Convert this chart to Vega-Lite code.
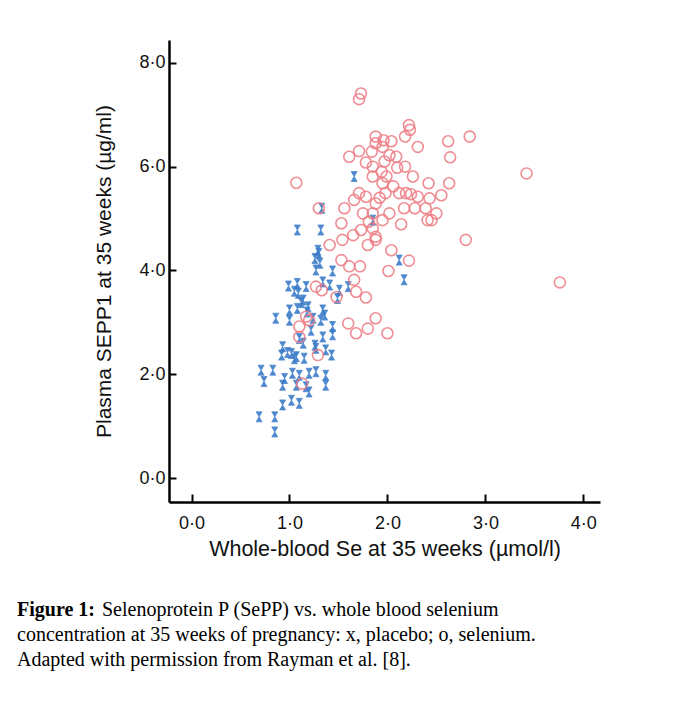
{
  "$schema": "https://vega.github.io/schema/vega-lite/v6.json",
  "width": 431,
  "height": 462,
  "autosize": {"type": "none"},
  "padding": {"left": 169, "top": 40, "right": 77, "bottom": 209},
  "background": "white",
  "config": {"view": {"stroke": null}},
  "title": {
    "text": "Figure 1:",
    "subtitle": ["\u200b\u00a0\u00a0\u00a0\u00a0\u00a0\u00a0\u00a0\u00a0\u00a0\u00a0\u00a0\u00a0\u00a0\u00a0\u00a0\u00a0\u00a0Selenoprotein P (SePP) vs. whole blood selenium", "concentration at 35 weeks of pregnancy: x, placebo; o, selenium.", "Adapted with permission from Rayman et al. [8]."],
    "orient": "bottom",
    "anchor": "start",
    "frame": "group",
    "dx": -152,
    "offset": 40,
    "font": "Liberation Serif",
    "fontSize": 20,
    "fontWeight": "bold",
    "color": "black",
    "subtitleFont": "Liberation Serif",
    "subtitleFontSize": 20,
    "subtitleFontWeight": "normal",
    "subtitleColor": "black",
    "subtitleLineHeight": 25,
    "subtitlePadding": -20
  },
  "data": {"values": [
    {"group":"selenium","se":1.73,"sepp":7.41},{"group":"selenium","se":1.71,"sepp":7.30},{"group":"selenium","se":2.22,"sepp":6.80},{"group":"selenium","se":2.23,"sepp":6.71},
    {"group":"selenium","se":2.18,"sepp":6.58},{"group":"selenium","se":2.84,"sepp":6.58},{"group":"selenium","se":2.62,"sepp":6.49},{"group":"selenium","se":2.64,"sepp":6.18},
    {"group":"selenium","se":1.88,"sepp":6.58},{"group":"selenium","se":1.96,"sepp":6.51},{"group":"selenium","se":2.04,"sepp":6.49},{"group":"selenium","se":1.88,"sepp":6.45},
    {"group":"selenium","se":1.95,"sepp":6.38},{"group":"selenium","se":2.31,"sepp":6.38},{"group":"selenium","se":1.71,"sepp":6.30},{"group":"selenium","se":1.84,"sepp":6.29},
    {"group":"selenium","se":1.61,"sepp":6.19},{"group":"selenium","se":2.09,"sepp":6.19},{"group":"selenium","se":2.02,"sepp":6.22},{"group":"selenium","se":1.78,"sepp":6.08},
    {"group":"selenium","se":1.97,"sepp":6.10},{"group":"selenium","se":1.85,"sepp":6.00},{"group":"selenium","se":2.18,"sepp":6.00},{"group":"selenium","se":1.94,"sepp":5.90},
    {"group":"selenium","se":2.26,"sepp":5.81},{"group":"selenium","se":1.85,"sepp":5.81},{"group":"selenium","se":1.99,"sepp":5.81},{"group":"selenium","se":3.42,"sepp":5.87},
    {"group":"selenium","se":1.07,"sepp":5.69},{"group":"selenium","se":2.42,"sepp":5.68},{"group":"selenium","se":2.63,"sepp":5.68},{"group":"selenium","se":1.95,"sepp":5.68},
    {"group":"selenium","se":1.98,"sepp":5.49},{"group":"selenium","se":2.12,"sepp":5.49},{"group":"selenium","se":2.19,"sepp":5.49},{"group":"selenium","se":2.24,"sepp":5.47},
    {"group":"selenium","se":1.71,"sepp":5.49},{"group":"selenium","se":1.78,"sepp":5.42},{"group":"selenium","se":1.66,"sepp":5.36},{"group":"selenium","se":2.31,"sepp":5.42},
    {"group":"selenium","se":2.43,"sepp":5.39},{"group":"selenium","se":1.88,"sepp":5.29},{"group":"selenium","se":1.56,"sepp":5.20},{"group":"selenium","se":1.75,"sepp":5.10},
    {"group":"selenium","se":2.02,"sepp":5.10},{"group":"selenium","se":2.17,"sepp":5.20},{"group":"selenium","se":2.28,"sepp":5.20},{"group":"selenium","se":2.39,"sepp":5.20},
    {"group":"selenium","se":2.41,"sepp":4.97},{"group":"selenium","se":2.45,"sepp":4.97},{"group":"selenium","se":1.30,"sepp":5.20},{"group":"selenium","se":1.85,"sepp":5.10},
    {"group":"selenium","se":1.95,"sepp":4.97},{"group":"selenium","se":1.81,"sepp":4.94},{"group":"selenium","se":1.53,"sepp":4.91},{"group":"selenium","se":2.14,"sepp":4.89},
    {"group":"selenium","se":1.73,"sepp":4.78},{"group":"selenium","se":1.85,"sepp":4.81},{"group":"selenium","se":1.88,"sepp":4.65},{"group":"selenium","se":1.65,"sepp":4.68},
    {"group":"selenium","se":1.54,"sepp":4.59},{"group":"selenium","se":1.80,"sepp":4.49},{"group":"selenium","se":1.88,"sepp":4.59},{"group":"selenium","se":1.41,"sepp":4.49},
    {"group":"selenium","se":2.80,"sepp":4.59},{"group":"selenium","se":2.04,"sepp":4.39},{"group":"selenium","se":1.53,"sepp":4.20},{"group":"selenium","se":1.61,"sepp":4.08},
    {"group":"selenium","se":1.72,"sepp":4.08},{"group":"selenium","se":2.22,"sepp":4.19},{"group":"selenium","se":2.01,"sepp":3.99},{"group":"selenium","se":3.76,"sepp":3.77},
    {"group":"selenium","se":1.66,"sepp":3.82},{"group":"selenium","se":1.68,"sepp":3.59},{"group":"selenium","se":1.78,"sepp":3.48},{"group":"selenium","se":1.48,"sepp":3.49},
    {"group":"selenium","se":1.27,"sepp":3.69},{"group":"selenium","se":1.33,"sepp":3.62},{"group":"selenium","se":1.88,"sepp":3.08},{"group":"selenium","se":1.60,"sepp":2.98},
    {"group":"selenium","se":1.80,"sepp":2.88},{"group":"selenium","se":1.68,"sepp":2.79},{"group":"selenium","se":2.00,"sepp":2.79},{"group":"selenium","se":1.17,"sepp":3.11},
    {"group":"selenium","se":1.20,"sepp":3.04},{"group":"selenium","se":1.10,"sepp":2.92},{"group":"selenium","se":1.10,"sepp":2.72},{"group":"selenium","se":1.29,"sepp":2.37},
    {"group":"selenium","se":1.13,"sepp":1.82},{"group":"selenium","se":2.06,"sepp":5.62},{"group":"selenium","se":1.92,"sepp":5.40},{"group":"selenium","se":2.50,"sepp":5.10},
    {"group":"selenium","se":2.10,"sepp":5.98},{"group":"selenium","se":2.55,"sepp":5.45},
    {"group":"placebo","se":1.08,"sepp":4.78},{"group":"placebo","se":1.32,"sepp":4.78},{"group":"placebo","se":1.66,"sepp":5.81},{"group":"placebo","se":1.33,"sepp":5.20},
    {"group":"placebo","se":1.85,"sepp":4.97},{"group":"placebo","se":2.12,"sepp":4.20},{"group":"placebo","se":2.17,"sepp":3.82},{"group":"placebo","se":1.29,"sepp":4.39},
    {"group":"placebo","se":1.30,"sepp":4.33},{"group":"placebo","se":1.26,"sepp":4.23},{"group":"placebo","se":1.31,"sepp":4.14},{"group":"placebo","se":1.27,"sepp":4.01},
    {"group":"placebo","se":1.44,"sepp":3.99},{"group":"placebo","se":0.99,"sepp":3.70},{"group":"placebo","se":1.08,"sepp":3.75},{"group":"placebo","se":1.17,"sepp":3.69},
    {"group":"placebo","se":1.41,"sepp":3.72},{"group":"placebo","se":1.51,"sepp":3.62},{"group":"placebo","se":1.60,"sepp":3.69},{"group":"placebo","se":1.34,"sepp":3.78},
    {"group":"placebo","se":1.09,"sepp":3.56},{"group":"placebo","se":1.14,"sepp":3.43},{"group":"placebo","se":1.49,"sepp":3.46},{"group":"placebo","se":1.00,"sepp":3.24},
    {"group":"placebo","se":1.08,"sepp":3.27},{"group":"placebo","se":1.19,"sepp":3.30},{"group":"placebo","se":1.34,"sepp":3.24},{"group":"placebo","se":1.36,"sepp":3.14},
    {"group":"placebo","se":0.86,"sepp":3.08},{"group":"placebo","se":1.00,"sepp":3.04},{"group":"placebo","se":1.24,"sepp":3.08},{"group":"placebo","se":1.32,"sepp":3.04},
    {"group":"placebo","se":1.44,"sepp":2.92},{"group":"placebo","se":1.22,"sepp":2.85},{"group":"placebo","se":1.10,"sepp":2.69},{"group":"placebo","se":1.34,"sepp":2.72},
    {"group":"placebo","se":1.44,"sepp":2.76},{"group":"placebo","se":1.14,"sepp":2.60},{"group":"placebo","se":1.26,"sepp":2.56},{"group":"placebo","se":0.93,"sepp":2.53},
    {"group":"placebo","se":1.02,"sepp":2.40},{"group":"placebo","se":0.92,"sepp":2.37},{"group":"placebo","se":1.07,"sepp":2.34},{"group":"placebo","se":1.15,"sepp":2.31},
    {"group":"placebo","se":1.27,"sepp":2.50},{"group":"placebo","se":1.43,"sepp":2.37},{"group":"placebo","se":1.37,"sepp":2.47},{"group":"placebo","se":0.71,"sepp":2.08},
    {"group":"placebo","se":0.83,"sepp":2.08},{"group":"placebo","se":0.74,"sepp":1.86},{"group":"placebo","se":0.95,"sepp":1.92},{"group":"placebo","se":1.03,"sepp":2.02},
    {"group":"placebo","se":1.10,"sepp":1.98},{"group":"placebo","se":1.20,"sepp":2.02},{"group":"placebo","se":1.37,"sepp":1.98},{"group":"placebo","se":0.93,"sepp":1.79},
    {"group":"placebo","se":1.07,"sepp":1.79},{"group":"placebo","se":1.17,"sepp":1.76},{"group":"placebo","se":1.20,"sepp":1.66},{"group":"placebo","se":1.37,"sepp":1.79},
    {"group":"placebo","se":1.27,"sepp":2.05},{"group":"placebo","se":0.93,"sepp":1.41},{"group":"placebo","se":1.02,"sepp":1.50},{"group":"placebo","se":1.10,"sepp":1.44},
    {"group":"placebo","se":0.69,"sepp":1.18},{"group":"placebo","se":0.85,"sepp":1.18},{"group":"placebo","se":0.85,"sepp":0.89},{"group":"placebo","se":1.05,"sepp":3.60},
    {"group":"placebo","se":1.12,"sepp":3.38},{"group":"placebo","se":0.98,"sepp":2.42},{"group":"placebo","se":1.05,"sepp":2.30},{"group":"placebo","se":1.18,"sepp":3.20}
  ]},
  "encoding": {
    "x": {
      "field": "se", "type": "quantitative",
      "scale": {"domain": [-0.23, 4.17], "nice": false, "zero": false},
      "axis": {
        "title": "Whole-blood Se at 35 weeks (\u00b5mol/l)",
        "values": [0, 1, 2, 3, 4],
        "labelExpr": "replace(format(datum.value, '.1f'), '.', '\u00b7')",
        "grid": false,
        "domainColor": "black", "domainWidth": 2.5,
        "tickColor": "black", "tickWidth": 2, "tickSize": -8,
        "labelFont": "Liberation Sans", "labelFontSize": 18, "labelColor": "#111111",
        "labelPadding": 20,
        "titleFont": "Liberation Sans", "titleFontSize": 21.5, "titleFontWeight": "normal", "titleColor": "#111111",
        "titlePadding": 6
      }
    },
    "y": {
      "field": "sepp", "type": "quantitative",
      "scale": {"domain": [-0.46, 8.44], "nice": false, "zero": false},
      "axis": {
        "title": "Plasma SEPP1 at 35 weeks (\u00b5g/ml)",
        "values": [0, 2, 4, 6, 8],
        "labelExpr": "replace(format(datum.value, '.1f'), '.', '\u00b7')",
        "grid": false,
        "domainColor": "black", "domainWidth": 2.5,
        "tickColor": "black", "tickWidth": 2, "tickSize": -7,
        "labelFont": "Liberation Sans", "labelFontSize": 18, "labelColor": "#111111",
        "labelPadding": 11,
        "titleFont": "Liberation Sans", "titleFontSize": 21, "titleFontWeight": "normal", "titleColor": "#111111",
        "titlePadding": 24
      }
    }
  },
  "layer": [
    {
      "transform": [{"filter": "datum.group === 'placebo'"}],
      "mark": {"type": "point", "shape": "M-0.6,-1L0.6,-1L-0.6,1L0.6,1Z", "filled": true, "size": 100, "color": "#3b7cc9", "stroke": "#3b7cc9", "strokeWidth": 0.8, "opacity": 0.9}
    },
    {
      "transform": [{"filter": "datum.group === 'selenium'"}],
      "mark": {"type": "point", "shape": "circle", "filled": false, "size": 120, "color": "#ee7b83", "strokeWidth": 1.6, "opacity": 0.85}
    }
  ]
}
